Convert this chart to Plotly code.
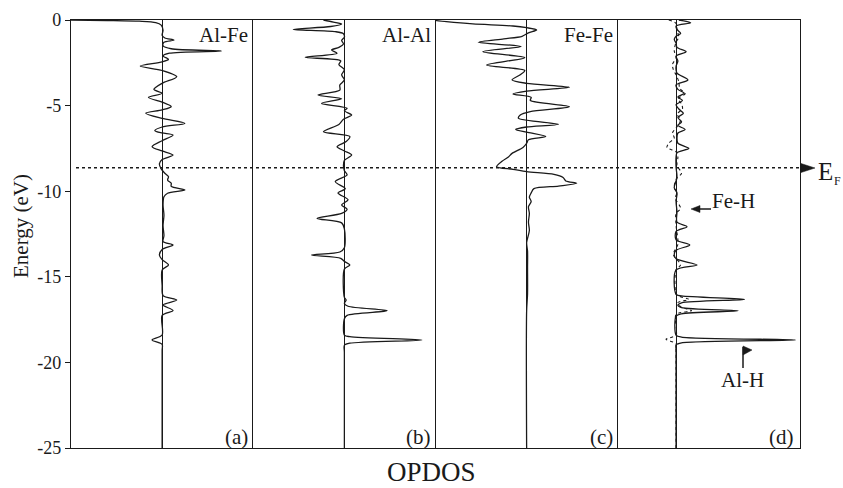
import plotly.graph_objects as go
from plotly.subplots import make_subplots

# --- Data: energy (eV) and OPDOS for each bond pair ---
AL_FE_E = [0.0, -0.03, -0.07, -0.15, -0.3, -0.6, -0.9, -1.05, -1.17, -1.3,
           -1.5, -1.68, -1.81, -1.94, -2.1, -2.3, -2.45, -2.69, -2.95, -3.31,
           -3.7, -4.05, -4.28, -4.52, -4.8, -5.06, -5.25, -5.45, -5.75, -6.04,
           -6.25, -6.46, -6.6, -6.72, -7.05, -7.4, -7.65, -7.89, -8.15, -8.4,
           -8.7, -8.95, -9.15, -9.35, -9.54, -9.72, -9.93, -10.12, -10.32, -10.8,
           -11.4, -12.0, -12.6, -12.95, -13.14, -13.4, -13.73, -14.0, -14.31, -14.6,
           -15.5, -16.1, -16.36, -16.65, -16.97, -17.25, -18.4, -18.69, -18.95, -19.3,
           -25.0]
AL_FE_OPDOS = [-1.05, -0.6, -0.25, -0.07, -0.01, 0.01, 0.0, 0.03, 0.13, 0.02,
               0.01, 0.1, 0.65, 0.08, 0.01, 0.07, 0.0, -0.24, 0.0, 0.16,
               0.0, -0.09, 0.0, -0.15, 0.0, 0.1, 0.0, -0.18, 0.0, 0.25,
               0.0, -0.08, 0.0, 0.12, 0.0, -0.11, 0.0, 0.12, 0.0, -0.03,
               -0.01, 0.03, 0.07, 0.06, 0.1, 0.1, 0.25, 0.06, 0.02, 0.01,
               0.02, 0.01, 0.02, 0.01, 0.12, 0.0, -0.03, 0.0, 0.07, 0.0,
               0.0, 0.01, 0.16, 0.01, 0.12, 0.0, 0.0, -0.11, 0.0, 0.0,
               0.0]

AL_AL_E = [0.0, -0.12, -0.23, -0.38, -0.55, -0.68, -0.8, -1.0, -1.2, -1.4,
           -1.6, -1.75, -1.95, -2.18, -2.38, -2.6, -2.9, -3.2, -3.5, -3.8,
           -4.1, -4.38, -4.6, -4.87, -5.15, -5.3, -5.55, -5.8, -6.1, -6.52,
           -6.81, -7.1, -7.4, -7.65, -7.89, -8.2, -8.5, -8.8, -9.05, -9.44,
           -9.85, -10.1, -10.5, -10.8, -11.05, -11.3, -11.59, -11.85, -12.2, -13.3,
           -13.55, -13.73, -13.92, -14.1, -14.31, -14.55, -16.2, -16.36, -16.55, -16.72,
           -16.98, -17.25, -17.45, -18.4, -18.5, -18.69, -18.88, -19.0, -19.4, -25.0]
AL_AL_OPDOS = [-0.23, -0.12, -0.03, -0.15, -0.56, -0.1, -0.01, 0.0, -0.03, -0.01,
               -0.06, -0.14, -0.08, -0.43, -0.04, -0.06, 0.0, -0.03, 0.0, -0.05,
               -0.05, -0.29, -0.03, -0.25, 0.03, 0.0, 0.08, -0.01, -0.06, -0.23,
               0.06, 0.02, -0.08, 0.0, 0.08, 0.0, -0.01, 0.0, 0.03, -0.1,
               0.01, -0.07, 0.04, -0.03, 0.03, -0.03, -0.3, -0.03, 0.0, 0.0,
               -0.05, -0.36, -0.04, 0.0, 0.06, 0.0, 0.0, 0.02, 0.0, 0.04,
               0.47, 0.03, 0.0, 0.0, 0.06, 0.85, 0.06, 0.0, 0.0, 0.0]

FE_FE_E = [0.0, -0.1, -0.23, -0.35, -0.45, -0.58, -0.75, -0.95, -1.1, -1.3,
           -1.55, -1.85, -2.2, -2.63, -2.95, -3.2, -3.5, -3.7, -3.93, -4.15,
           -4.32, -4.52, -4.7, -5.06, -5.35, -5.55, -5.74, -6.09, -6.25, -6.39,
           -6.55, -6.81, -7.0, -7.2, -7.45, -7.79, -8.0, -8.25, -8.57, -8.72,
           -8.86, -9.02, -9.2, -9.4, -9.54, -9.7, -9.85, -10.1, -10.35, -10.6,
           -10.9, -11.3, -11.8, -12.3, -13.0, -13.5, -14.5, -16.0, -17.0, -25.0]
FE_FE_OPDOS = [-1.05, -0.88, -0.59, -0.15, 0.0, 0.11, 0.02, -0.05, -0.25, -0.53,
               -0.06, -0.48, -0.02, -0.44, -0.02, -0.07, -0.16, 0.0, 0.47, 0.0,
               -0.15, 0.05, 0.04, 0.47, 0.04, -0.07, -0.09, 0.35, 0.0, -0.12,
               0.0, 0.21, 0.02, 0.0, -0.04, -0.16, -0.2, -0.27, -0.33, -0.15,
               0.0, 0.3, 0.4, 0.43, 0.55, 0.35, 0.08, 0.05, 0.03, 0.05,
               0.02, 0.03, 0.02, 0.03, 0.0, 0.01, 0.01, 0.01, 0.0, 0.0]

AL_H_E = [0.0, -0.16, -0.35, -0.55, -0.78, -0.95, -1.13, -1.35, -1.6, -1.85,
          -2.1, -2.4, -2.7, -3.1, -3.5, -3.8, -4.05, -4.28, -4.5, -4.7,
          -4.95, -5.2, -5.45, -5.7, -5.95, -6.15, -6.4, -6.6, -6.9, -7.2,
          -7.5, -7.75, -8.0, -8.6, -9.2, -9.8, -10.1, -10.6, -11.2, -11.8,
          -12.07, -12.35, -12.85, -13.14, -13.45, -13.7, -13.95, -14.31, -14.6, -16.02,
          -16.12, -16.32, -16.52, -16.66, -16.8, -16.98, -17.16, -17.3, -18.4, -18.52,
          -18.69, -18.86, -18.98, -19.3, -25.0]
AL_H_OPDOS = [0.03, 0.16, 0.0, 0.01, 0.05, 0.0, -0.02, 0.0, 0.01, 0.11,
              0.0, 0.02, 0.0, 0.01, 0.13, 0.0, 0.02, 0.09, 0.02, 0.07,
              0.0, 0.03, 0.08, 0.02, 0.06, 0.02, 0.1, 0.02, 0.01, 0.02,
              0.14, 0.01, 0.0, 0.0, 0.01, -0.02, 0.01, 0.0, 0.01, 0.01,
              0.12, 0.0, 0.0, 0.15, 0.0, -0.02, 0.0, 0.23, 0.0, 0.0,
              0.06, 0.75, 0.06, 0.02, 0.06, 0.68, 0.06, 0.0, 0.0, 0.06,
              1.31, 0.06, 0.0, 0.0, 0.0]

FE_H_E = [0.0, -0.2, -0.6, -1.0, -1.3, -1.8, -2.2, -2.6, -2.9, -3.2,
          -3.6, -4.0, -4.3, -4.6, -4.9, -5.2, -5.5, -5.8, -6.0, -6.3,
          -6.6, -6.9, -7.2, -7.45, -7.7, -8.0, -8.5, -8.95, -9.3, -9.8,
          -10.1, -10.4, -11.0, -11.3, -12.0, -13.1, -13.7, -14.3, -14.6, -16.0,
          -16.15, -16.32, -16.5, -16.75, -16.98, -17.2, -18.4, -18.65, -18.9, -19.2,
          -25.0]
FE_H_OPDOS = [-0.08, 0.0, 0.01, 0.03, 0.0, -0.02, 0.0, -0.04, -0.03, 0.0,
              0.03, 0.04, 0.1, 0.02, 0.06, 0.07, 0.01, 0.05, 0.04, 0.0,
              -0.04, -0.02, -0.08, -0.1, 0.0, 0.02, 0.01, 0.06, 0.0, -0.02,
              0.01, -0.01, 0.05, 0.0, 0.0, 0.02, -0.03, 0.05, 0.0, 0.0,
              0.04, 0.14, 0.02, 0.05, 0.17, 0.0, 0.0, -0.11, 0.0, 0.0,
              0.0]

FERMI_LEVEL = -8.63
TOP_LABELS = ["Al-Fe", "Al-Al", "Fe-Fe", ""]
PANEL_TAGS = ["(a)", "(b)", "(c)", "(d)"]
Y_TICKS = [0, -5, -10, -15, -20, -25]
Y_TICK_TEXT = ["0", "-5", "-10", "-15", "-20", "-25"]

# --- Layout constants ---
W, H = 843, 488
ML, MR, MT, MB = 71, 43, 20, 40
PW, PH = W - ML - MR, H - MT - MB
FONT = "Liberation Serif, Times New Roman, serif"
INK = "#1a1a1a"
X_RANGES = [[-1, 1], [-1, 1], [-1, 1], [-0.64, 1.36]]


def px(x, y):
    """Pixel position in the figure -> paper coordinates."""
    return (x - ML) / PW, 1 - (y - MT) / PH


def tri_path(pts):
    coords = [px(x, y) for x, y in pts]
    return "M " + " L ".join(f"{cx},{cy}" for cx, cy in coords) + " Z"


fig = make_subplots(rows=1, cols=4, shared_yaxes=True, horizontal_spacing=0)

line_style = dict(color=INK, width=1.3, shape="spline", smoothing=0.8)
fig.add_trace(go.Scatter(x=AL_FE_OPDOS, y=AL_FE_E, mode="lines", line=line_style), row=1, col=1)
fig.add_trace(go.Scatter(x=AL_AL_OPDOS, y=AL_AL_E, mode="lines", line=line_style), row=1, col=2)
fig.add_trace(go.Scatter(x=FE_FE_OPDOS, y=FE_FE_E, mode="lines", line=line_style), row=1, col=3)
fig.add_trace(go.Scatter(x=FE_H_OPDOS, y=FE_H_E, mode="lines",
                         line=dict(color=INK, width=1.1, dash="dot", shape="spline", smoothing=0.8)),
              row=1, col=4)
fig.add_trace(go.Scatter(x=AL_H_OPDOS, y=AL_H_E, mode="lines", line=line_style), row=1, col=4)

for i in range(4):
    fig.update_xaxes(range=X_RANGES[i], showline=True, mirror=True, linecolor=INK, linewidth=1.3,
                     showgrid=False, showticklabels=False, ticks="", zeroline=True, automargin=False,
                     zerolinecolor=INK, zerolinewidth=1.3, row=1, col=i + 1)
    fig.update_yaxes(range=[-25, 0], showline=True, mirror=(i == 3), linecolor=INK, linewidth=1.3,
                     showgrid=False, zeroline=False, automargin=False, row=1, col=i + 1)

fig.update_yaxes(tickvals=Y_TICKS, ticktext=Y_TICK_TEXT, ticks="outside", ticklen=5,
                 tickwidth=1.3, tickcolor=INK, tickfont=dict(family=FONT, size=18, color=INK),
                 row=1, col=1)

annotations = []
tag_right = [248, 431, 613, 794]
for i in range(4):
    if TOP_LABELS[i]:
        x, y = px(tag_right[i] + 2, 35)
        annotations.append(dict(x=x, y=y, text=TOP_LABELS[i], xanchor="right"))
    x, y = px(tag_right[i] + 2, 437)
    annotations.append(dict(x=x, y=y, text=PANEL_TAGS[i], xanchor="right"))

x, y = px(21, 226)
annotations.append(dict(x=x, y=y, text="Energy (eV)", textangle=-90, font=dict(size=21)))
x, y = px(431, 472)
annotations.append(dict(x=x, y=y, text="OPDOS", font=dict(size=27)))
x, y = px(710, 201)
annotations.append(dict(x=x, y=y, text="Fe-H", xanchor="left"))
x, y = px(742, 380)
annotations.append(dict(x=x, y=y, text="Al-H"))
x, y = px(816, 171)
annotations.append(dict(x=x, y=y, text="E", xanchor="left", font=dict(size=25)))
x, y = px(832, 181)
annotations.append(dict(x=x, y=y, text="F", xanchor="left", font=dict(size=12)))

for a in annotations:
    a.setdefault("xanchor", "center")
    a.setdefault("yanchor", "middle")
    a.setdefault("font", dict(size=21))
    a.update(xref="paper", yref="paper", showarrow=False)
    a["font"] = dict(family=FONT, color=INK, **a["font"])

# Fermi level line, E_F marker, Fe-H pointer and the Al-H flag
shapes = [dict(type="line", xref="paper", yref="y", x0=px(76, 0)[0], x1=1.0,
               y0=FERMI_LEVEL, y1=FERMI_LEVEL, line=dict(color=INK, width=1.3, dash="3px,3px"))]
marks = [
    [(801, 163.5), (815, 168), (801, 172.5)],   # E_F arrowhead
    [(691, 209), (700, 205.5), (700, 212.5)],   # Fe-H arrowhead
    [(743, 346), (752, 350), (743, 355)],       # Al-H flag
]
for pts in marks:
    shapes.append(dict(type="path", xref="paper", yref="paper", path=tri_path(pts),
                       fillcolor=INK, line=dict(color=INK, width=0.5)))
for (xa, ya), (xb, yb) in [((700, 209), (711, 209)), ((743, 347), (743, 368))]:
    p0, p1 = px(xa, ya), px(xb, yb)
    shapes.append(dict(type="line", xref="paper", yref="paper", x0=p0[0], y0=p0[1],
                       x1=p1[0], y1=p1[1], line=dict(color=INK, width=1.5)))

fig.update_layout(
    width=W, height=H,
    margin=dict(l=ML, r=MR, t=MT, b=MB),
    plot_bgcolor="white", paper_bgcolor="white",
    showlegend=False,
    font=dict(family=FONT, color=INK),
    annotations=annotations,
    shapes=shapes,
)

# the page body has a default 8px margin; drop it so the figure fills the window
fig.write_html("out.html", config={"displayModeBar": False},
               post_script="document.body.style.margin = '0px';")
